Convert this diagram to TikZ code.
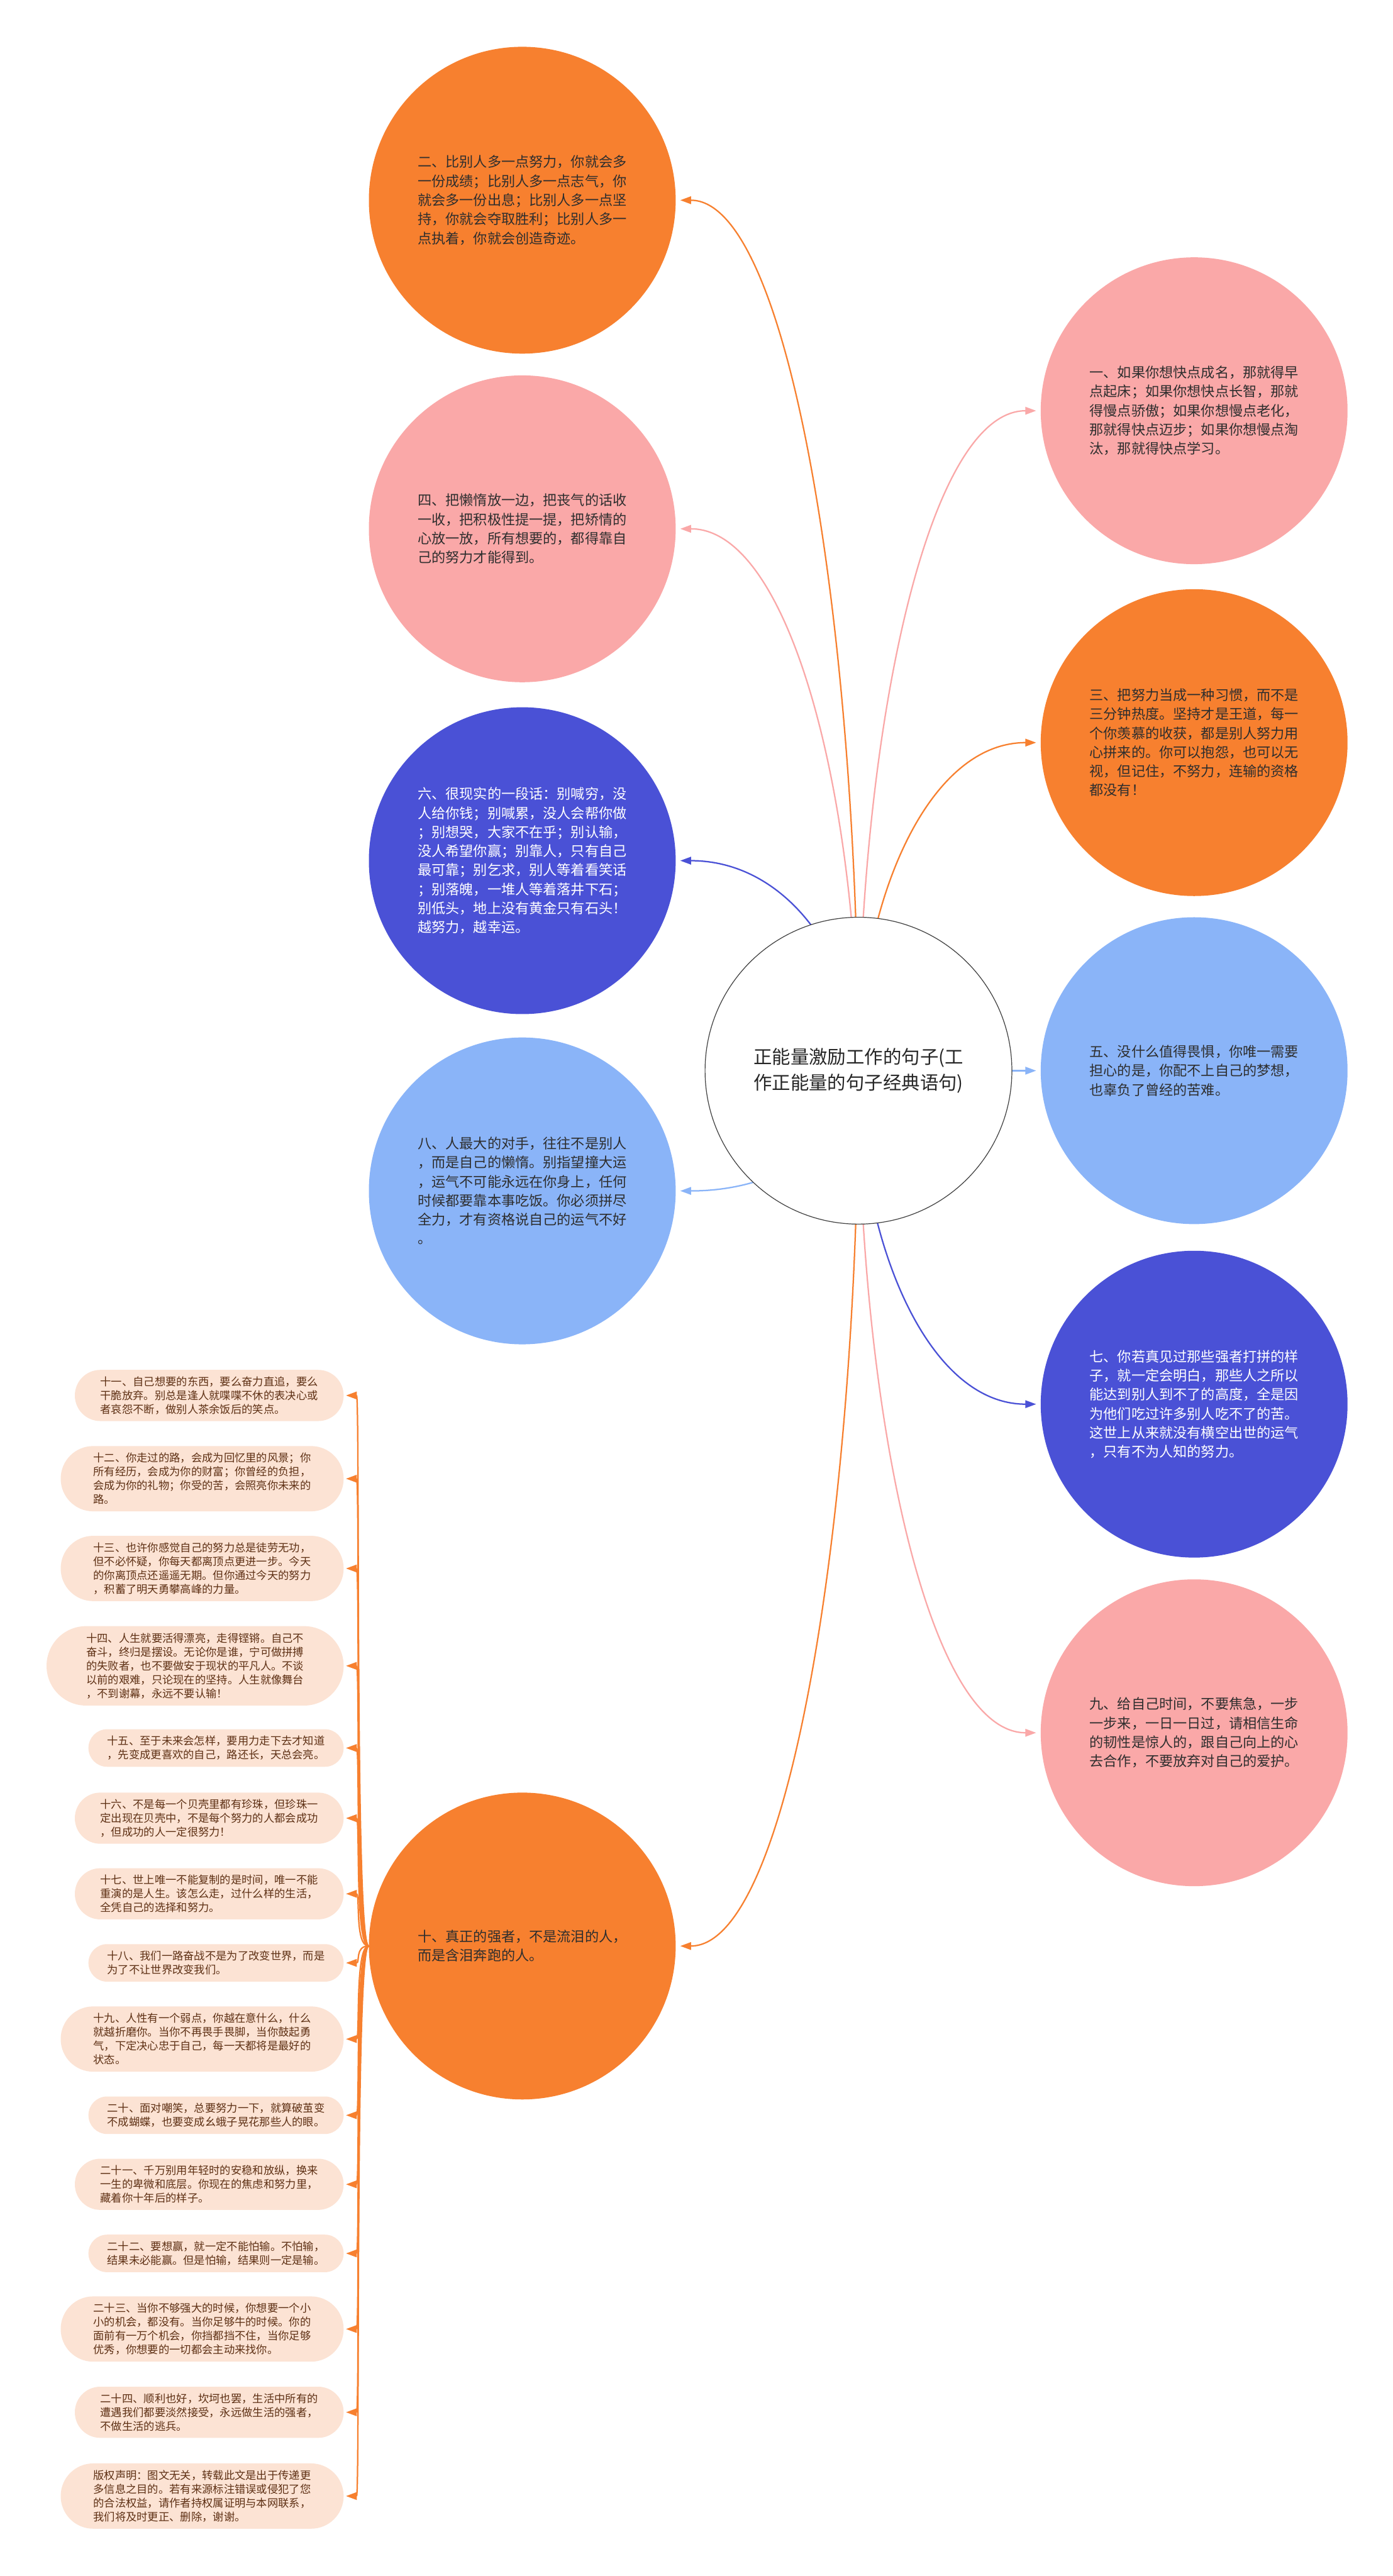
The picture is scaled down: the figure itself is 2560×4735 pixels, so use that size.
\documentclass[tikz,border=0pt]{standalone}
\usepackage{fontspec}
\setmainfont{Noto Sans CJK SC}
\usetikzlibrary{arrows.meta,backgrounds}
\definecolor{cor}{HTML}{F7802F}
\definecolor{cpk}{HTML}{FAA8A8}
\definecolor{cbl}{HTML}{4A51D6}
\definecolor{clb}{HTML}{8AB4F8}
\definecolor{cpeach}{HTML}{FCE3D4}
\definecolor{cbrown}{HTML}{5E3014}
\definecolor{ctxt}{HTML}{2E2E2E}
\begin{document}
\begin{tikzpicture}[x=0.5pt,y=-0.5pt,
  bubble/.style={circle, minimum size=282pt, inner sep=0pt, align=left,
    font=\fontsize{12.8pt}{17.5pt}\selectfont, text=ctxt},
  pillbase/.style={rectangle, fill=cpeach, inner ysep=0pt,
    align=left, font=\fontsize{10pt}{12.75pt}\selectfont, text=cbrown, anchor=east},
  ptwo/.style={pillbase, minimum height=34.5pt, inner xsep=17.25pt, rounded corners=17.2pt},
  pthree/.style={pillbase, minimum height=47pt, inner xsep=23.5pt, rounded corners=23.4pt},
  pfour/.style={pillbase, minimum height=60pt, inner xsep=30pt, rounded corners=29.9pt},
  pfive/.style={pillbase, minimum height=73pt, inner xsep=36.5pt, rounded corners=36.4pt},
  conn/.style={line width=1.3pt, -{Triangle[length=10pt,width=7pt]}},
]
\useasboundingbox (0,0) rectangle (2560,4735);

% circles
\node[bubble, fill=white, draw=black!75, line width=0.7pt,
  font=\fontsize{17pt}{24pt}\selectfont, text=black!85] (c0) at (1578,1968)
  {正能量激励工作的句子(工\\作正能量的句子经典语句)};

\node[bubble, fill=cor] (c2) at (960,368)
  {二、比别人多一点努力，你就会多\\一份成绩；比别人多一点志气，你\\就会多一份出息；比别人多一点坚\\持，你就会夺取胜利；比别人多一\\点执着，你就会创造奇迹。};
\node[bubble, fill=cpk] (c4) at (960,972)
  {四、把懒惰放一边，把丧气的话收\\一收，把积极性提一提，把矫情的\\心放一放，所有想要的，都得靠自\\己的努力才能得到。};
\node[bubble, fill=cbl, text=white] (c6) at (960,1582)
  {六、很现实的一段话：别喊穷，没\\人给你钱；别喊累，没人会帮你做\\；别想哭，大家不在乎；别认输，\\没人希望你赢；别靠人，只有自己\\最可靠；别乞求，别人等着看笑话\\；别落魄，一堆人等着落井下石；\\别低头，地上没有黄金只有石头！\\越努力，越幸运。};
\node[bubble, fill=clb] (c8) at (960,2189)
  {八、人最大的对手，往往不是别人\\，而是自己的懒惰。别指望撞大运\\，运气不可能永远在你身上，任何\\时候都要靠本事吃饭。你必须拼尽\\全力，才有资格说自己的运气不好\\。};
\node[bubble, fill=cor] (c10) at (960,3577)
  {十、真正的强者，不是流泪的人，\\而是含泪奔跑的人。};

\node[bubble, fill=cpk] (c1) at (2195,755)
  {一、如果你想快点成名，那就得早\\点起床；如果你想快点长智，那就\\得慢点骄傲；如果你想慢点老化，\\那就得快点迈步；如果你想慢点淘\\汰，那就得快点学习。};
\node[bubble, fill=cor] (c3) at (2195,1365)
  {三、把努力当成一种习惯，而不是\\三分钟热度。坚持才是王道，每一\\个你羡慕的收获，都是别人努力用\\心拼来的。你可以抱怨，也可以无\\视，但记住，不努力，连输的资格\\都没有！};
\node[bubble, fill=clb] (c5) at (2195,1968)
  {五、没什么值得畏惧，你唯一需要\\担心的是，你配不上自己的梦想，\\也辜负了曾经的苦难。};
\node[bubble, fill=cbl, text=white] (c7) at (2195,2581)
  {七、你若真见过那些强者打拼的样\\子，就一定会明白，那些人之所以\\能达到别人到不了的高度，全是因\\为他们吃过许多别人吃不了的苦。\\这世上从来就没有横空出世的运气\\，只有不为人知的努力。};
\node[bubble, fill=cpk] (c9) at (2195,3185)
  {九、给自己时间，不要焦急，一步\\一步来，一日一日过，请相信生命\\的韧性是惊人的，跟自己向上的心\\去合作，不要放弃对自己的爱护。};

% pills
\node[pthree] (b11) at (632,2565) {十一、自己想要的东西，要么奋力直追，要么\\干脆放弃。别总是逢人就喋喋不休的表决心或\\者哀怨不断，做别人茶余饭后的笑点。};
\node[pfour] (b12) at (632,2718) {十二、你走过的路，会成为回忆里的风景；你\\所有经历，会成为你的财富；你曾经的负担，\\会成为你的礼物；你受的苦，会照亮你未来的\\路。};
\node[pfour] (b13) at (632,2883) {十三、也许你感觉自己的努力总是徒劳无功，\\但不必怀疑，你每天都离顶点更进一步。今天\\的你离顶点还遥遥无期。但你通过今天的努力\\，积蓄了明天勇攀高峰的力量。};
\node[pfive] (b14) at (632,3062) {十四、人生就要活得漂亮，走得铿锵。自己不\\奋斗，终归是摆设。无论你是谁，宁可做拼搏\\的失败者，也不要做安于现状的平凡人。不谈\\以前的艰难，只论现在的坚持。人生就像舞台\\，不到谢幕，永远不要认输！};
\node[ptwo] (b15) at (632,3213) {十五、至于未来会怎样，要用力走下去才知道\\，先变成更喜欢的自己，路还长，天总会亮。};
\node[pthree] (b16) at (632,3342) {十六、不是每一个贝壳里都有珍珠，但珍珠一\\定出现在贝壳中，不是每个努力的人都会成功\\，但成功的人一定很努力！};
\node[pthree] (b17) at (632,3481) {十七、世上唯一不能复制的是时间，唯一不能\\重演的是人生。该怎么走，过什么样的生活，\\全凭自己的选择和努力。};
\node[ptwo] (b18) at (632,3608) {十八、我们一路奋战不是为了改变世界，而是\\为了不让世界改变我们。};
\node[pfour] (b19) at (632,3748) {十九、人性有一个弱点，你越在意什么，什么\\就越折磨你。当你不再畏手畏脚，当你鼓起勇\\气，下定决心忠于自己，每一天都将是最好的\\状态。};
\node[ptwo] (b20) at (632,3888) {二十、面对嘲笑，总要努力一下，就算破茧变\\不成蝴蝶，也要变成幺蛾子晃花那些人的眼。};
\node[pthree] (b21) at (632,4015) {二十一、千万别用年轻时的安稳和放纵，换来\\一生的卑微和底层。你现在的焦虑和努力里，\\藏着你十年后的样子。};
\node[ptwo] (b22) at (632,4142) {二十二、要想赢，就一定不能怕输。不怕输，\\结果未必能赢。但是怕输，结果则一定是输。};
\node[pfour] (b23) at (632,4281) {二十三、当你不够强大的时候，你想要一个小\\小的机会，都没有。当你足够牛的时候。你的\\面前有一万个机会，你挡都挡不住，当你足够\\优秀，你想要的一切都会主动来找你。};
\node[pthree] (b24) at (632,4434) {二十四、顺利也好，坎坷也罢，生活中所有的\\遭遇我们都要淡然接受，永远做生活的强者，\\不做生活的逃兵。};
\node[pfour] (b25) at (632,4588) {版权声明：图文无关，转载此文是出于传递更\\多信息之目的。若有来源标注错误或侵犯了您\\的合法权益，请作者持权属证明与本网联系，\\我们将及时更正、删除，谢谢。};

\begin{scope}[on background layer]
\fill[white] (0,0) rectangle (2560,4735);
% center connectors
\draw[conn, cor] (c0.center) .. controls (1578,1168) and (1453,368) .. ([xshift=4pt]c2.east);
\draw[conn, cpk] (c0.center) .. controls (1578,1470) and (1453,972) .. ([xshift=4pt]c4.east);
\draw[conn, cbl] (c0.center) .. controls (1578,1775) and (1453,1582) .. ([xshift=4pt]c6.east);
\draw[conn, clb] (c0.center) .. controls (1578,2078) and (1453,2189) .. ([xshift=4pt]c8.east);
\draw[conn, cor] (c0.center) .. controls (1578,2772) and (1453,3577) .. ([xshift=4pt]c10.east);
\draw[conn, cpk] (c0.center) .. controls (1578,1361) and (1702,755) .. ([xshift=-4pt]c1.west);
\draw[conn, cor] (c0.center) .. controls (1578,1666) and (1702,1365) .. ([xshift=-4pt]c3.west);
\draw[conn, clb] (c0.center) -- ([xshift=-4pt]c5.west);
\draw[conn, cbl] (c0.center) .. controls (1578,2274) and (1702,2581) .. ([xshift=-4pt]c7.west);
\draw[conn, cpk] (c0.center) .. controls (1578,2576) and (1702,3185) .. ([xshift=-4pt]c9.west);
% box connectors
\foreach \b/\y in {b11/2565,b12/2718,b13/2883,b14/3062,b15/3213,b16/3342,b17/3481,b18/3608,b19/3748,b20/3888,b21/4015,b22/4142,b23/4281,b24/4434,b25/4588}{
  \draw[conn, cor] (c10.west) .. controls (652,3577) and (662,\y) .. ([xshift=2pt]\b.east);
}
\end{scope}
\end{tikzpicture}
\end{document}
